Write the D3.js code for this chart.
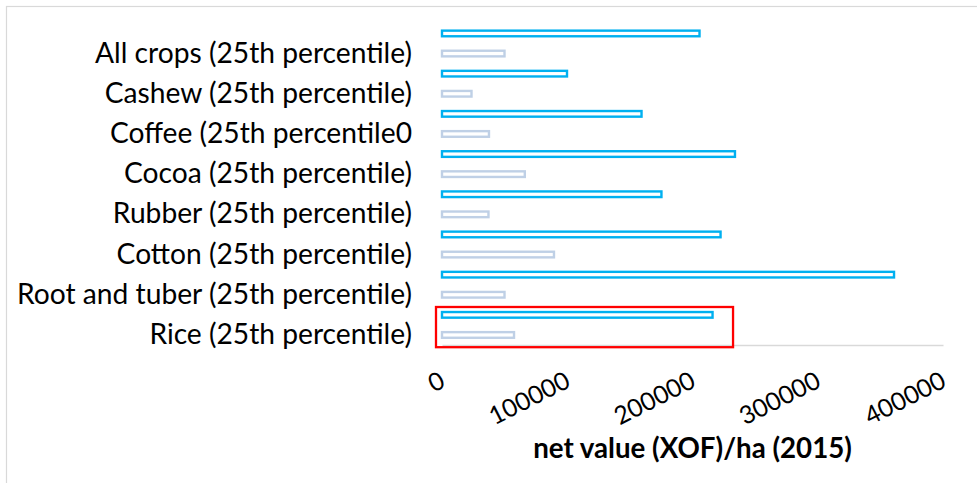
<!DOCTYPE html>
<html>
<head>
<meta charset="utf-8">
<script src="https://cdn.jsdelivr.net/npm/d3@7"></script>
<style>
  body { margin: 0; background: #fff; }
  svg { display: block; font-family: Lato, "Open Sans", sans-serif; }
</style>
</head>
<body>
<svg id="chart" width="977" height="483"></svg>
<script>
// Crop categories, top to bottom
const categories = [
  "All crops (25th percentile)",
  "Cashew (25th percentile)",
  "Coffee (25th percentile0",
  "Cocoa (25th percentile)",
  "Rubber (25th percentile)",
  "Cotton (25th percentile)",
  "Root and tuber (25th percentile)",
  "Rice (25th percentile)"
];
// Upper series (blue bars) and 25th percentile series (pale bars), XOF/ha
const upperValues = [205600, 99800, 159300, 233900, 175200, 222400, 360900, 216000];
const p25Values   = [49900, 23550, 37500, 66100, 37100, 89400, 49900, 57500];
const xTicks = [0, 100000, 200000, 300000, 400000];
const xTitle = "net value (XOF)/ha (2015)";
const highlighted = "Rice (25th percentile)";

const series = [
  { key: "upper", values: upperValues, color: "#00b0f0" },
  { key: "p25",   values: p25Values,   color: "#bfd0e6" }
];

const svg = d3.select("#chart");
const W = 977, H = 483;
const plot = { left: 442, right: 943, top: 23.4, bottom: 345 };

svg.append("rect").attr("width", W).attr("height", H).attr("fill", "#fff");

// outer chart frame
svg.append("rect")
  .attr("x", 6.5).attr("y", 6.5)
  .attr("width", W + 20).attr("height", H + 20)
  .attr("fill", "none").attr("stroke", "#d9d9d9").attr("stroke-width", 1.2);

const x = d3.scaleLinear().domain([0, 400000]).range([plot.left, plot.right]);
const y = d3.scaleBand().domain(categories).range([plot.top, plot.bottom]);
const sub = d3.scaleBand().domain(series.map(s => s.key))
  .range([0, y.bandwidth()]).paddingInner(0.72).paddingOuter(0.36);

// bars
series.forEach(s => {
  svg.append("g").selectAll("rect")
    .data(categories.map((c, i) => ({ c, v: s.values[i] })))
    .join("rect")
    .attr("x", x(0))
    .attr("y", d => y(d.c) + sub(s.key))
    .attr("width", d => x(d.v) - x(0))
    .attr("height", sub.bandwidth())
    .attr("fill", "#fff")
    .attr("stroke", s.color)
    .attr("stroke-width", 2.4);
});

// category labels sit beside the 25th percentile bars
const shift = sub("p25") + sub.bandwidth() / 2 - y.bandwidth() / 2;
const yLabels = y.copy().range([plot.top + shift, plot.bottom + shift]);
const yAxis = svg.append("g")
  .attr("transform", `translate(${plot.left},0)`)
  .call(d3.axisLeft(yLabels).tickSize(0).tickPadding(30));
yAxis.select(".domain").remove();
yAxis.selectAll("text")
  .attr("font-family", "Lato, sans-serif")
  .attr("font-size", 28.2)
  .attr("fill", "#000");

// value axis
const xAxis = svg.append("g")
  .attr("transform", `translate(0,${plot.bottom})`)
  .call(d3.axisBottom(x).tickValues(xTicks).tickSize(0).tickFormat(d3.format("d")));
xAxis.select(".domain").attr("stroke", "#d9d9d9").attr("stroke-width", 1.5);
xAxis.selectAll("text")
  .attr("font-family", "Lato, sans-serif")
  .attr("font-size", 25)
  .attr("fill", "#000")
  .attr("text-anchor", "end")
  .attr("x", 0).attr("y", 0).attr("dy", "0.72em")
  .attr("transform", "translate(-4,25) rotate(-27)");

svg.append("text")
  .attr("x", (plot.left + plot.right) / 2)
  .attr("y", 458)
  .attr("text-anchor", "middle")
  .attr("font-family", "Lato, sans-serif")
  .attr("font-weight", "bold")
  .attr("font-size", 27.7)
  .attr("fill", "#000")
  .text(xTitle);

// highlight box around the Rice pair
const hi = categories.indexOf(highlighted);
const hiMax = d3.max(series, s => s.values[hi]);
svg.append("rect")
  .attr("x", x(0) - 6)
  .attr("y", y(highlighted) + 2.2)
  .attr("width", x(hiMax) + 20.5 - (x(0) - 6))
  .attr("height", y.bandwidth())
  .attr("fill", "none")
  .attr("stroke", "#ff0000")
  .attr("stroke-width", 2.3);
</script>
</body>
</html>
